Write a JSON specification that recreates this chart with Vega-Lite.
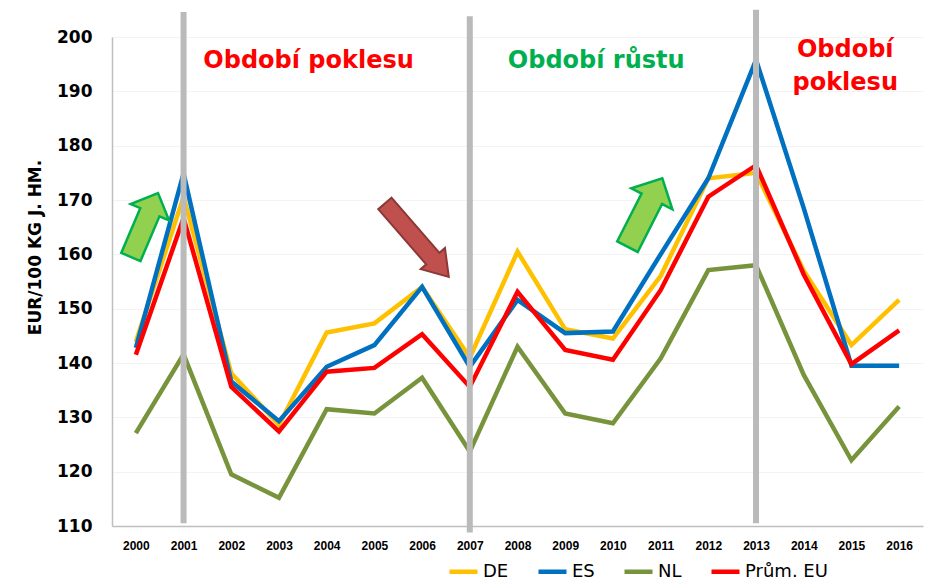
{
  "$schema": "https://vega.github.io/schema/vega-lite/v6.json",
  "width": 811,
  "height": 489,
  "autosize": {"type": "none"},
  "padding": {"left": 112, "top": 37, "right": 4, "bottom": 56},
  "background": "white",
  "config": {
    "view": {"stroke": null},
    "font": "DejaVu Sans"
  },
  "datasets": {
    "series": [
      {"year": 2000, "series": "DE", "value": 143.9},
      {"year": 2001, "series": "DE", "value": 170.6},
      {"year": 2002, "series": "DE", "value": 138.1},
      {"year": 2003, "series": "DE", "value": 128.6},
      {"year": 2004, "series": "DE", "value": 145.6},
      {"year": 2005, "series": "DE", "value": 147.3},
      {"year": 2006, "series": "DE", "value": 154.0},
      {"year": 2007, "series": "DE", "value": 141.0},
      {"year": 2008, "series": "DE", "value": 160.5},
      {"year": 2009, "series": "DE", "value": 146.2},
      {"year": 2010, "series": "DE", "value": 144.5},
      {"year": 2011, "series": "DE", "value": 156.0},
      {"year": 2012, "series": "DE", "value": 174.0},
      {"year": 2013, "series": "DE", "value": 175.0},
      {"year": 2014, "series": "DE", "value": 157.0},
      {"year": 2015, "series": "DE", "value": 143.3},
      {"year": 2016, "series": "DE", "value": 151.6},
      {"year": 2000, "series": "ES", "value": 142.8},
      {"year": 2001, "series": "ES", "value": 174.9},
      {"year": 2002, "series": "ES", "value": 136.6},
      {"year": 2003, "series": "ES", "value": 129.3},
      {"year": 2004, "series": "ES", "value": 139.3},
      {"year": 2005, "series": "ES", "value": 143.3},
      {"year": 2006, "series": "ES", "value": 154.0},
      {"year": 2007, "series": "ES", "value": 139.3},
      {"year": 2008, "series": "ES", "value": 151.6},
      {"year": 2009, "series": "ES", "value": 145.5},
      {"year": 2010, "series": "ES", "value": 145.8},
      {"year": 2011, "series": "ES", "value": 160.0},
      {"year": 2012, "series": "ES", "value": 174.0},
      {"year": 2013, "series": "ES", "value": 195.8},
      {"year": 2014, "series": "ES", "value": 168.5},
      {"year": 2015, "series": "ES", "value": 139.5},
      {"year": 2016, "series": "ES", "value": 139.5},
      {"year": 2000, "series": "NL", "value": 127.1},
      {"year": 2001, "series": "NL", "value": 141.6},
      {"year": 2002, "series": "NL", "value": 119.5},
      {"year": 2003, "series": "NL", "value": 115.2},
      {"year": 2004, "series": "NL", "value": 131.5},
      {"year": 2005, "series": "NL", "value": 130.7},
      {"year": 2006, "series": "NL", "value": 137.3},
      {"year": 2007, "series": "NL", "value": 123.7},
      {"year": 2008, "series": "NL", "value": 143.0},
      {"year": 2009, "series": "NL", "value": 130.7},
      {"year": 2010, "series": "NL", "value": 128.9},
      {"year": 2011, "series": "NL", "value": 140.8},
      {"year": 2012, "series": "NL", "value": 157.1},
      {"year": 2013, "series": "NL", "value": 158.0},
      {"year": 2014, "series": "NL", "value": 137.8},
      {"year": 2015, "series": "NL", "value": 122.1},
      {"year": 2016, "series": "NL", "value": 132.0},
      {"year": 2000, "series": "Prům. EU", "value": 141.5},
      {"year": 2001, "series": "Prům. EU", "value": 166.7},
      {"year": 2002, "series": "Prům. EU", "value": 135.6},
      {"year": 2003, "series": "Prům. EU", "value": 127.4},
      {"year": 2004, "series": "Prům. EU", "value": 138.4},
      {"year": 2005, "series": "Prům. EU", "value": 139.1},
      {"year": 2006, "series": "Prům. EU", "value": 145.3},
      {"year": 2007, "series": "Prům. EU", "value": 135.6},
      {"year": 2008, "series": "Prům. EU", "value": 153.1},
      {"year": 2009, "series": "Prům. EU", "value": 142.4},
      {"year": 2010, "series": "Prům. EU", "value": 140.6},
      {"year": 2011, "series": "Prům. EU", "value": 153.4},
      {"year": 2012, "series": "Prům. EU", "value": 170.6},
      {"year": 2013, "series": "Prům. EU", "value": 176.4},
      {"year": 2014, "series": "Prům. EU", "value": 156.3},
      {"year": 2015, "series": "Prům. EU", "value": 139.8},
      {"year": 2016, "series": "Prům. EU", "value": 146.0}
    ],
    "dividers": [
      {"year": 2001, "bottom": 110.5, "top": 204.6},
      {"year": 2007, "bottom": 108.8, "top": 203.8},
      {"year": 2013, "bottom": 110.5, "top": 205.0}
    ],
    "redLabels": [
      {"year": 2003.62, "value": 194.3, "label": "Období poklesu"},
      {"year": 2014.87, "value": 196.3, "label": "Období\npoklesu"}
    ],
    "greenLabels": [
      {"year": 2009.65, "value": 194.3, "label": "Období růstu"}
    ],
    "arrowUp1": [{"year": 2000.18, "value": 165.4}],
    "arrowUp2": [{"year": 2010.67, "value": 167.7}],
    "arrowDown": [{"year": 2005.89, "value": 162.6}]
  },
  "encoding": {
    "x": {
      "field": "year",
      "type": "quantitative",
      "scale": {"domain": [1999.5, 2016.5], "nice": false, "zero": false},
      "axis": {
        "title": null,
        "values": [2000, 2001, 2002, 2003, 2004, 2005, 2006, 2007, 2008, 2009, 2010, 2011, 2012, 2013, 2014, 2015, 2016],
        "format": "d",
        "grid": false,
        "ticks": false,
        "domainColor": "#bfbfbf",
        "domainWidth": 1.5,
        "labelFont": "Liberation Sans",
        "labelFontWeight": "bold",
        "labelFontSize": 12,
        "labelColor": "#000000",
        "labelPadding": 14,
        "labelFlush": false,
        "labelOverlap": false
      }
    }
  },
  "layer": [
    {
      "data": {"name": "series"},
      "mark": {"type": "line", "strokeWidth": 4.5, "strokeJoin": "miter"},
      "encoding": {
        "y": {
          "field": "value",
          "type": "quantitative",
          "scale": {"domain": [110, 200], "nice": false, "zero": false},
          "axis": {
            "title": "EUR/100 KG J. HM.",
            "titleFont": "DejaVu Sans",
            "titleFontWeight": "bold",
            "titleFontSize": 17,
            "titleColor": "#000000",
            "titleY": 210,
            "titlePadding": 12,
            "values": [110, 120, 130, 140, 150, 160, 170, 180, 190, 200],
            "grid": true,
            "gridColor": "#f3f3f3",
            "ticks": false,
            "domainColor": "#bfbfbf",
            "domainWidth": 1.5,
            "labelFont": "DejaVu Sans",
            "labelFontWeight": "bold",
            "labelFontSize": 17,
            "labelColor": "#000000",
            "labelPadding": 20
          }
        },
        "color": {
          "field": "series",
          "type": "nominal",
          "scale": {
            "domain": ["DE", "ES", "NL", "Prům. EU"],
            "range": ["#FFC000", "#0070C0", "#77933C", "#FF0000"]
          },
          "legend": {
            "title": null,
            "orient": "none",
            "direction": "horizontal",
            "legendX": 335,
            "legendY": 518,
            "symbolType": "stroke",
            "symbolStrokeWidth": 4.5,
            "symbolSize": 784,
            "labelFont": "DejaVu Sans",
            "labelFontSize": 18,
            "labelColor": "#000000",
            "labelOffset": 3,
            "columnPadding": 20
          }
        }
      }
    },
    {
      "data": {"name": "dividers"},
      "mark": {"type": "rule", "color": "#bababa", "strokeWidth": 6},
      "encoding": {
        "y": {"field": "bottom", "type": "quantitative"},
        "y2": {"field": "top"}
      }
    },
    {
      "data": {"name": "redLabels"},
      "mark": {"type": "text", "color": "#FF0000", "font": "DejaVu Sans", "fontWeight": "bold", "fontSize": 24, "align": "center", "baseline": "alphabetic", "lineBreak": "\n", "lineHeight": 32.7},
      "encoding": {"y": {"field": "value", "type": "quantitative"}, "text": {"field": "label"}}
    },
    {
      "data": {"name": "greenLabels"},
      "mark": {"type": "text", "color": "#00B050", "font": "DejaVu Sans", "fontWeight": "bold", "fontSize": 24, "align": "center", "baseline": "alphabetic"},
      "encoding": {"y": {"field": "value", "type": "quantitative"}, "text": {"field": "label"}}
    },
    {
      "data": {"name": "arrowUp1"},
      "mark": {"type": "point", "filled": true, "shape": "M -0.3 1 L 0.3 1 L 0.3 -0.4 L 0.6 -0.4 L 0 -1 L -0.6 -0.4 L -0.3 -0.4 Z", "size": 4830, "angle": 23, "fill": "#92D050", "stroke": "#00B050", "strokeWidth": 2.5, "opacity": 1},
      "encoding": {"y": {"field": "value", "type": "quantitative"}}
    },
    {
      "data": {"name": "arrowUp2"},
      "mark": {"type": "point", "filled": true, "shape": "M -0.3 1 L 0.3 1 L 0.3 -0.4 L 0.6 -0.4 L 0 -1 L -0.6 -0.4 L -0.3 -0.4 Z", "size": 5900, "angle": 27, "fill": "#92D050", "stroke": "#00B050", "strokeWidth": 2.5, "opacity": 1},
      "encoding": {"y": {"field": "value", "type": "quantitative"}}
    },
    {
      "data": {"name": "arrowDown"},
      "mark": {"type": "point", "filled": true, "shape": "M -0.18 1 L 0.18 1 L 0.18 -0.5 L 0.33 -0.5 L 0 -1 L -0.33 -0.5 L -0.18 -0.5 Z", "size": 9500, "angle": 139, "fill": "#C0504D", "stroke": "#8C3836", "strokeWidth": 2, "opacity": 1},
      "encoding": {"y": {"field": "value", "type": "quantitative"}}
    }
  ]
}
